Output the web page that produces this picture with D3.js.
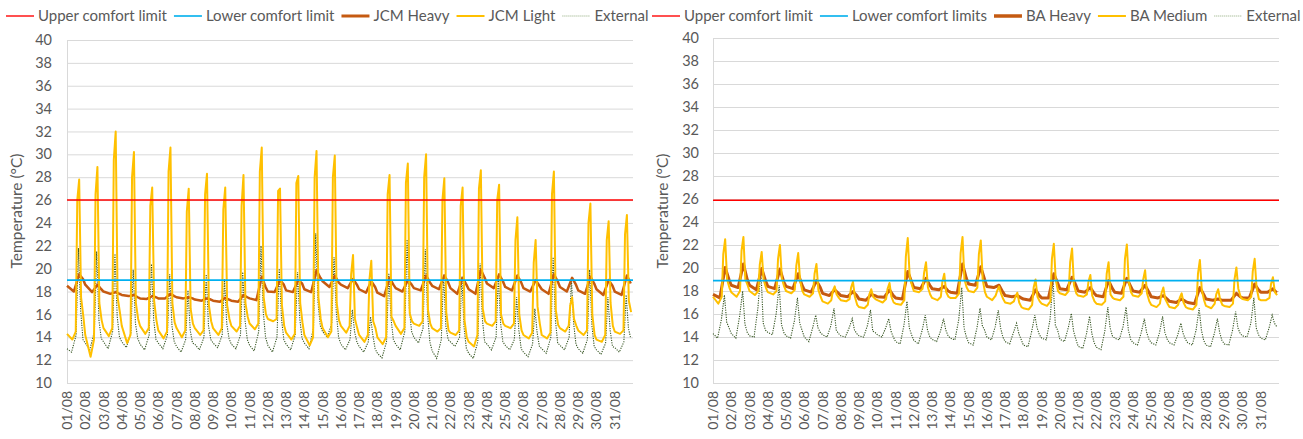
<!DOCTYPE html>
<html>
<head>
<meta charset="utf-8">
<script src="https://cdn.jsdelivr.net/npm/d3@7"></script>
<style>
  body { margin: 0; background: #fff; }
  text { font-family: Lato, "Open Sans", sans-serif; fill: #595959; }
</style>
</head>
<body>
<svg id="chart" width="1303" height="439"></svg>
<script>
// ---- data (°C) ----
var dayLabels = ["01/08","02/08","03/08","04/08","05/08","06/08","07/08","08/08","09/08","10/08",
  "11/08","12/08","13/08","14/08","15/08","16/08","17/08","18/08","19/08","20/08","21/08",
  "22/08","23/08","24/08","25/08","26/08","27/08","28/08","29/08","30/08","31/08"];
var yTicks = [10,12,14,16,18,20,22,24,26,28,30,32,34,36,38,40];

// hours of the day at which each series was read
var hoursLight = [0, 7, 11.5, 13.5, 16, 18.5, 21.5];
var hoursHeavy = [0, 9, 16, 21];
var hoursExtL = [0, 6, 12, 15, 18, 21];
var hoursExtR = [0, 6, 11, 15, 18, 21];

// left chart
var upperLimitL = 26, lowerLimitL = 19;
var jcmLight = [
  [14.3,13.8,14.5,26.0,27.8,17.5,15.8],[14.2,12.3,13.8,26.5,28.9,17.0,15.5],[14.8,14.1,14.8,29.5,32.0,17.5,16.2],
  [15.0,13.5,14.2,28.0,30.2,17.0,15.6],[15.0,14.3,14.8,25.5,27.1,17.2,15.5],[14.6,13.9,14.5,28.5,30.6,17.0,15.3],
  [14.8,14.0,14.6,25.0,27.0,16.5,15.2],[14.8,14.2,14.6,26.5,28.3,16.8,15.4],[14.8,14.2,14.8,25.2,27.1,16.8,15.6],
  [15.0,14.5,15.0,25.5,28.2,17.0,15.8],[15.2,14.7,15.2,28.5,30.6,17.5,16.0],[15.6,15.4,15.6,26.8,27.0,16.8,15.0],
  [14.4,13.8,14.3,27.5,28.1,17.0,15.3],[14.2,13.3,14.0,28.0,30.3,17.5,15.6],[14.8,14.0,14.5,28.0,29.9,17.0,15.5],
  [15.0,14.4,15.0,19.5,21.2,15.6,14.8],[14.2,13.6,14.2,19.0,20.7,15.4,14.8],[14.0,13.4,14.0,26.5,28.2,15.8,15.4],
  [15.0,14.3,14.8,27.5,29.2,16.1,15.4],[15.2,15.0,15.4,28.0,30.0,16.4,15.2],[14.8,14.5,14.8,26.0,27.9,16.2,14.6],
  [14.4,14.2,14.6,25.5,27.1,15.5,14.0],[13.6,13.2,14.2,27.0,28.6,16.5,15.4],[15.2,15.0,15.4,26.0,27.35,16.0,15.2],
  [15.0,14.8,15.2,22.5,24.5,16.0,14.6],[14.2,13.9,14.4,20.5,22.5,16.7,15.2],[14.2,13.9,14.4,26.5,28.5,16.4,15.1],
  [14.8,14.5,15.0,16.8,17.5,15.6,15.0],[14.6,14.2,14.6,24.0,25.7,16.0,14.2],[13.8,13.6,14.2,22.5,24.15,17.0,15.0],
  [14.5,14.3,14.6,23.0,24.7,17.2,16.2]
];
var jcmHeavy = [
  [18.5,18.0,19.5,19.1],[18.6,17.95,18.6,18.2],[18.0,17.8,17.95,17.8],[17.7,17.6,17.7,17.5],
  [17.4,17.35,17.6,17.5],[17.4,17.4,17.8,17.6],[17.5,17.4,17.5,17.4],[17.3,17.2,17.4,17.3],
  [17.2,17.1,17.45,17.3],[17.2,17.1,17.7,17.5],[17.4,17.25,19.3,18.4],[18.0,17.95,19.0,18.6],
  [18.1,17.95,19.0,18.7],[18.2,17.95,19.85,19.2],[18.9,18.4,19.4,18.8],[18.6,18.3,19.1,18.6],
  [18.2,17.9,18.9,18.4],[17.9,17.6,19.2,18.6],[18.3,18.0,19.0,18.6],[18.3,18.1,19.4,18.8],
  [18.5,18.2,19.4,18.8],[18.3,17.8,19.2,18.6],[18.2,17.8,19.9,19.2],[18.7,18.3,19.5,18.9],
  [18.4,18.1,19.4,18.8],[18.3,18.0,19.0,18.5],[18.2,17.8,19.5,18.9],[18.4,18.0,19.2,18.6],
  [18.1,17.8,19.3,18.7],[18.2,17.7,19.0,18.5],[18.0,17.7,19.4,18.7]
];
var externalL = [
  [13.0,12.7,14.2,21.8,16.3,13.8],[13.5,12.9,14.5,21.5,15.5,13.9],[13.6,13.0,14.5,21.3,15.8,14.0],
  [13.6,13.1,14.4,19.9,15.2,13.9],[13.4,12.9,14.2,20.4,15.5,13.8],[13.5,13.0,14.2,19.5,15.0,13.6],
  [13.2,12.7,13.8,18.1,14.6,13.5],[13.4,12.9,14.0,19.5,15.0,13.8],[13.5,13.1,14.2,19.1,15.2,13.9],
  [13.4,13.0,14.2,19.7,15.5,13.8],[13.3,12.8,14.5,22.0,16.2,14.0],[13.3,12.7,14.0,20.0,15.6,13.8],
  [13.4,12.9,14.2,19.7,15.6,13.9],[13.5,13.0,14.8,23.1,17.0,15.0],[14.5,14.0,15.2,21.0,16.2,14.0],
  [13.4,12.9,13.8,16.4,14.5,13.6],[13.2,12.7,13.6,15.8,14.2,13.0],[12.6,12.2,13.6,19.6,15.6,13.8],
  [13.4,12.9,14.5,22.55,16.5,14.5],[14.0,13.5,14.8,21.7,16.0,13.6],[12.8,12.15,13.8,19.5,15.0,13.8],
  [13.6,13.2,14.0,19.3,14.8,13.0],[12.6,12.15,13.6,20.45,15.6,13.6],[13.4,12.9,14.0,19.4,15.2,13.6],
  [13.3,12.9,13.8,17.5,14.6,13.0],[12.7,12.3,13.4,16.5,14.4,13.2],[13.0,12.6,14.0,21.0,15.5,13.5],
  [13.3,12.9,14.0,19.1,15.2,13.4],[13.0,12.6,13.8,19.9,15.0,13.2],[12.9,12.5,13.5,17.5,14.6,13.2],
  [13.1,12.7,13.6,17.7,14.8,13.9]
];

// right chart
var upperLimitR = 25.9, lowerLimitR = 18.9;
var baMedium = [
  [17.5,16.9,17.5,21.2,22.5,19.0,18.3],[17.9,17.5,18.0,21.5,22.7,19.0,18.5],[18.0,17.65,18.0,20.3,21.4,19.0,18.3],
  [17.9,17.7,18.0,20.8,22.0,19.1,18.4],[18.0,17.8,18.1,20.2,21.3,18.9,18.0],[17.7,17.5,17.8,19.5,20.35,18.1,17.5],
  [17.1,16.9,17.2,18.0,18.4,17.7,17.4],[17.2,17.1,17.3,18.3,18.8,17.5,16.8],[16.6,16.5,16.8,17.7,18.15,17.5,17.3],
  [17.2,17.0,17.3,18.2,18.7,17.5,17.0],[16.9,16.8,17.2,21.0,22.6,19.3,18.5],[18.0,17.9,18.2,19.6,20.5,18.3,17.7],
  [17.4,17.2,17.5,18.8,19.5,17.9,17.5],[17.4,17.4,17.8,21.3,22.7,19.0,18.3],[18.0,17.9,18.3,21.2,22.4,19.0,17.9],
  [17.5,17.2,17.6,18.0,18.4,17.8,17.3],[17.0,16.9,17.1,17.5,17.85,17.0,16.6],[16.5,16.4,16.8,18.3,19.0,17.5,17.1],
  [16.9,16.7,17.1,20.8,22.1,19.0,18.0],[17.8,17.65,18.0,20.5,21.7,18.5,17.8],[17.6,17.5,17.7,18.8,19.4,17.6,17.1],
  [16.9,16.8,17.1,19.5,20.5,17.7,17.4],[17.3,17.2,17.5,20.8,22.05,18.8,17.9],[17.6,17.5,17.8,19.0,19.8,17.8,17.1],
  [16.8,16.6,16.9,17.8,18.3,17.3,16.9],[16.6,16.5,16.8,17.4,17.8,17.0,16.6],[16.5,16.4,16.8,19.5,20.7,18.1,17.2],
  [16.7,16.5,16.9,17.7,18.15,17.3,16.8],[16.7,16.6,16.9,19.0,20.05,18.2,17.5],[17.3,17.2,17.5,19.7,20.8,18.3,17.3],
  [17.2,17.2,17.4,18.6,19.2,17.9,17.65]
];
var baHeavy = [
  [17.7,17.4,20.05,19.0],[18.5,18.3,20.35,19.0],[18.5,18.1,19.95,18.9],[18.4,18.2,19.9,18.8],
  [18.4,18.2,19.5,18.5],[18.1,17.9,18.9,18.3],[17.8,17.6,18.1,17.8],[17.6,17.5,17.95,17.6],
  [17.3,17.2,17.7,17.6],[17.5,17.45,18.1,17.6],[17.4,17.3,19.7,18.8],[18.3,18.2,19.1,18.5],
  [18.2,18.1,18.4,18.0],[17.9,17.8,20.35,19.1],[18.6,18.5,20.1,19.0],[18.4,18.3,18.5,17.9],
  [17.6,17.5,17.6,17.4],[17.3,17.2,18.1,17.6],[17.4,17.4,19.5,18.7],[18.2,18.1,19.2,18.5],
  [18.0,17.9,18.3,17.8],[17.6,17.5,18.9,18.2],[17.9,17.8,19.1,18.4],[18.0,17.9,18.5,17.9],
  [17.5,17.4,17.6,17.3],[17.1,17.0,17.3,17.1],[17.0,16.9,18.3,17.7],[17.3,17.2,17.3,17.2],
  [17.2,17.2,17.8,17.5],[17.4,17.4,18.6,18.1],[17.9,17.9,18.2,17.85]
];
var externalR = [
  [14.3,13.9,15.5,17.65,15.3,14.8],[14.3,13.9,15.8,18.0,15.1,14.4],[14.1,14.0,16.5,19.8,15.2,14.6],
  [14.4,14.2,16.0,18.5,15.1,14.4],[14.1,13.9,15.4,17.4,15.2,14.6],[14.0,13.6,14.8,15.9,14.8,14.4],
  [14.2,14.0,15.0,16.5,14.6,14.3],[14.1,14.0,14.8,15.6,14.6,14.3],[14.1,14.0,15.0,16.35,14.5,14.4],
  [14.2,14.0,14.8,15.6,14.5,14.0],[13.6,13.4,15.0,17.1,14.8,14.2],[13.7,13.4,14.6,15.9,14.6,14.0],
  [13.8,13.6,14.5,15.6,14.6,14.1],[13.9,13.75,15.5,18.3,14.8,14.0],[13.5,13.3,14.8,16.5,15.0,14.6],
  [14.0,13.75,14.9,16.35,14.8,14.0],[13.6,13.4,14.4,15.2,14.3,13.8],[13.3,13.15,14.5,15.9,14.8,14.2],
  [13.9,13.75,15.5,18.95,15.0,14.6],[13.8,13.6,14.8,16.05,14.5,13.8],[13.2,13.0,14.3,15.8,14.3,13.5],
  [13.1,12.9,14.5,16.6,14.8,14.1],[13.9,13.75,14.9,16.6,14.6,13.8],[13.5,13.3,14.4,15.6,14.4,13.8],
  [13.5,13.3,14.4,15.8,14.4,13.8],[13.5,13.3,14.2,15.2,14.3,13.8],[13.5,13.3,14.6,16.5,14.6,13.7],
  [13.3,13.15,14.3,15.6,14.4,13.7],[13.4,13.3,14.6,16.2,14.8,14.3],[14.1,14.0,15.2,17.4,14.8,14.2],
  [13.9,13.75,14.8,15.9,15.2,14.9]
];

// ---- drawing ----
var svg = d3.select("#chart");

function toPoints(rows, hours) {
  var pts = [];
  rows.forEach(function (row, d) {
    row.forEach(function (v, i) {
      pts.push({t: d + hours[i] / 24, v: v});
    });
  });
  return pts;
}

function drawPanel(cfg) {
  var x = d3.scaleLinear().domain([0, 31]).range([cfg.left, cfg.right]);
  var y = d3.scaleLinear().domain([10, 40]).range([383, cfg.top]);
  var g = svg.append("g");

  // gridlines
  g.append("g").selectAll("line").data(yTicks).enter().append("line")
      .attr("x1", cfg.left).attr("x2", cfg.right)
      .attr("y1", function (d) { return y(d) + 0.5; })
      .attr("y2", function (d) { return y(d) + 0.5; })
      .attr("stroke", "#d9d9d9").attr("stroke-width", 1);
  g.append("line")
      .attr("x1", cfg.left + 0.5).attr("x2", cfg.left + 0.5)
      .attr("y1", cfg.top).attr("y2", 383)
      .attr("stroke", "#d9d9d9");

  // y axis labels
  var yAxis = d3.axisLeft(y).tickValues(yTicks).tickSize(0).tickPadding(cfg.left - cfg.yLabelX);
  var ya = g.append("g").attr("transform", "translate(" + cfg.left + ",0)").call(yAxis);
  ya.select(".domain").remove();
  ya.selectAll("text").style("font-size", "14.5px").attr("fill", "#595959")
      .style("font-family", "Lato, 'Open Sans', sans-serif");

  // x axis labels (rotated)
  g.append("g").selectAll("text").data(dayLabels).enter().append("text")
      .attr("transform", function (d, i) {
        return "translate(" + (x(i) + 5) + ",391) rotate(-90)";
      })
      .attr("text-anchor", "end")
      .style("font-size", "14px")
      .text(function (d) { return d; });

  // axis title
  g.append("text")
      .attr("transform", "translate(" + cfg.titleX + ",211) rotate(-90)")
      .attr("text-anchor", "middle")
      .style("font-size", "15.5px")
      .text("Temperature (°C)");

  var line = d3.line()
      .x(function (d) { return x(d.t); })
      .y(function (d) { return y(d.v); });

  var plot = g.append("g");

  // external (dotted)
  plot.append("path").datum(toPoints(cfg.ext, cfg.extHours))
      .attr("d", line).attr("fill", "none")
      .attr("stroke", "#375623").attr("stroke-width", 1.1)
      .attr("stroke-dasharray", "1.2,1.2");
  // heavy
  plot.append("path").datum(toPoints(cfg.heavy, hoursHeavy))
      .attr("d", line).attr("fill", "none")
      .attr("stroke", "#c55a11").attr("stroke-width", cfg.heavyWidth)
      .attr("stroke-linejoin", "round");
  // light / medium
  plot.append("path").datum(toPoints(cfg.light, hoursLight))
      .attr("d", line).attr("fill", "none")
      .attr("stroke", "#ffc000").attr("stroke-width", 2)
      .attr("stroke-linejoin", "round");

  // comfort limits
  plot.append("line")
      .attr("x1", x(0)).attr("x2", x(31))
      .attr("y1", y(cfg.upper)).attr("y2", y(cfg.upper))
      .attr("stroke", "#ff0000").attr("stroke-width", 1.5);
  plot.append("line")
      .attr("x1", x(0)).attr("x2", x(31))
      .attr("y1", y(cfg.lower)).attr("y2", y(cfg.lower))
      .attr("stroke", "#00b0f0").attr("stroke-width", 1.8);

  // legend
  var lg = g.append("g").attr("transform", "translate(0,16)");
  var lx = cfg.legendX;
  cfg.legend.forEach(function (item) {
    var s = lg.append("line")
        .attr("x1", lx).attr("x2", lx + 28).attr("y1", 0).attr("y2", 0)
        .attr("stroke", item.color).attr("stroke-width", item.width);
    if (item.dash) s.attr("stroke-dasharray", item.dash);
    var t = lg.append("text").attr("x", lx + 32).attr("y", 5)
        .style("font-size", "15px").text(item.label);
    lx += 32 + t.node().getComputedTextLength() + 7;
  });
}

drawPanel({
  left: 67, right: 633, top: 40, yLabelX: 52, titleX: 22,
  upper: upperLimitL, lower: lowerLimitL,
  light: jcmLight, heavy: jcmHeavy, ext: externalL, extHours: hoursExtL,
  heavyWidth: 2.5, legendX: 6,
  legend: [
    {label: "Upper comfort limit", color: "#ff5050", width: 2},
    {label: "Lower comfort limit", color: "#33bff0", width: 2},
    {label: "JCM Heavy", color: "#c55a11", width: 3},
    {label: "JCM Light", color: "#ffc000", width: 2},
    {label: "External", color: "#8faa7a", width: 1, dash: "1,1"}
  ]
});

drawPanel({
  left: 713, right: 1279, top: 38, yLabelX: 699, titleX: 668,
  upper: upperLimitR, lower: lowerLimitR,
  light: baMedium, heavy: baHeavy, ext: externalR, extHours: hoursExtR,
  heavyWidth: 3, legendX: 652,
  legend: [
    {label: "Upper comfort limit", color: "#ff5050", width: 2},
    {label: "Lower comfort limits", color: "#33bff0", width: 2},
    {label: "BA Heavy", color: "#c55a11", width: 3.5},
    {label: "BA Medium", color: "#ffc000", width: 2},
    {label: "External", color: "#8faa7a", width: 1, dash: "1,1"}
  ]
});
</script>
</body>
</html>
